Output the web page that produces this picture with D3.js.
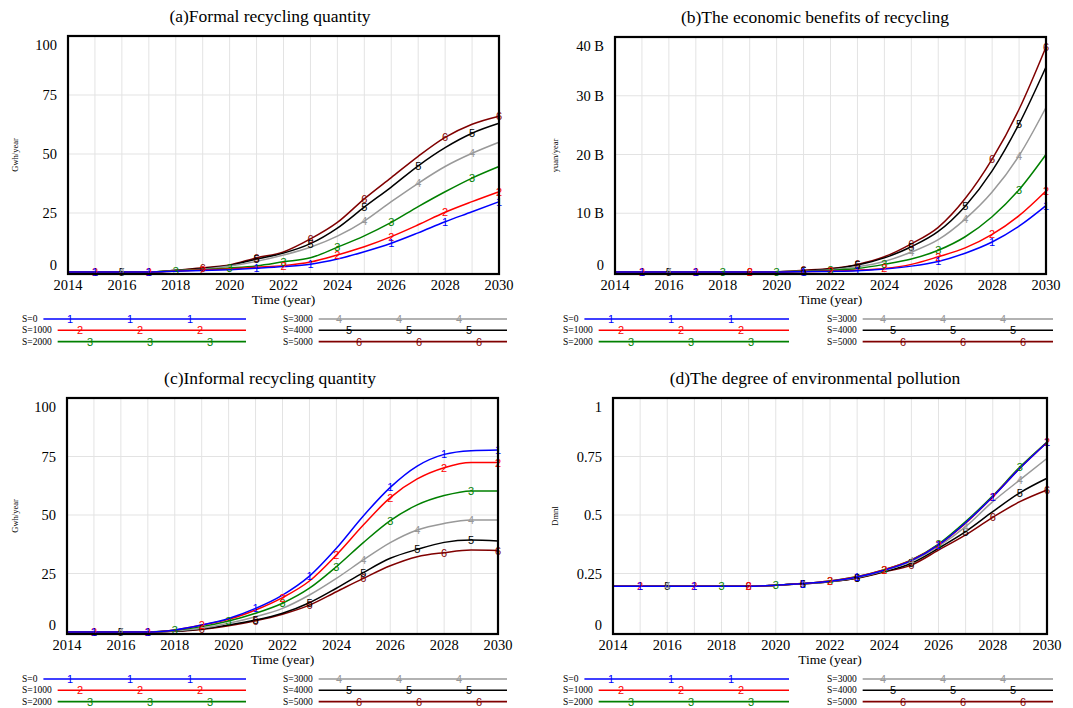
<!DOCTYPE html>
<html>
<head>
<meta charset="utf-8">
<script src="https://cdn.jsdelivr.net/npm/d3@7"></script>
<style>
  body { margin: 0; background: #fff; }
  svg { display: block; font-family: "Liberation Serif", "Times New Roman", serif; }
  .mark { font-family: "Liberation Sans", Arial, sans-serif; }
</style>
</head>
<body>
<svg id="chart" width="1073" height="708"></svg>
<script>
// --- data ---
const years = [2014, 2015, 2016, 2017, 2018, 2019, 2020, 2021, 2022, 2023, 2024, 2025, 2026, 2027, 2028, 2029, 2030];
const scenarios = ['S=0', 'S=1000', 'S=2000', 'S=3000', 'S=4000', 'S=5000'];
const colors = ['#0000ff', '#ff0000', '#008000', '#999999', '#000000', '#800000'];
const xTicks = [2014, 2016, 2018, 2020, 2022, 2024, 2026, 2028, 2030];

// (a) formal recycling quantity, Gwh/year
const formalS0    = [0, 0, 0, 0, 0.3, 0.6, 1.0, 1.6, 2.3, 3.3, 5.5, 8.6, 12.2, 16.6, 21.3, 25.5, 29.8];
const formalS1000 = [0, 0, 0, 0, 0.4, 0.8, 1.3, 2.0, 2.7, 4.2, 7.2, 10.7, 15.0, 20.0, 25.3, 29.8, 34.0];
const formalS2000 = [0, 0, 0, 0, 0.5, 1.0, 1.7, 2.6, 4.3, 6.0, 10.5, 15.3, 21.0, 27.7, 34.0, 39.8, 44.7];
const formalS3000 = [0, 0, 0, 0, 0.6, 1.2, 2.5, 4.5, 7.2, 10.5, 15.2, 21.6, 29.8, 37.6, 44.7, 50.3, 55.0];
const formalS4000 = [0, 0, 0, 0, 0.7, 1.5, 2.8, 5.5, 8.0, 12.0, 18.6, 27.5, 36.0, 45.0, 52.7, 58.8, 63.0];
const formalS5000 = [0, 0, 0, 0, 0.7, 1.8, 3.0, 6.0, 8.5, 14.0, 21.0, 31.0, 40.0, 49.0, 57.0, 62.6, 66.0];

// (b) economic benefits, billion yuan/year
const benefitS0    = [0, 0, 0, 0, 0, 0, 0, 0.05, 0.1, 0.2, 0.5, 1.0, 1.8, 3.2, 5.1, 7.8, 11.3];
const benefitS1000 = [0, 0, 0, 0, 0, 0, 0, 0.08, 0.15, 0.3, 0.6, 1.3, 2.6, 4.1, 6.4, 9.6, 13.8];
const benefitS2000 = [0, 0, 0, 0, 0, 0, 0.05, 0.1, 0.3, 0.6, 1.3, 2.2, 3.7, 6.0, 9.4, 14.0, 20.0];
const benefitS3000 = [0, 0, 0, 0, 0, 0, 0.05, 0.15, 0.4, 0.9, 1.8, 3.4, 5.5, 9.0, 13.6, 19.8, 28.0];
const benefitS4000 = [0, 0, 0, 0, 0, 0, 0.05, 0.2, 0.5, 1.2, 2.4, 4.3, 6.9, 11.2, 17.2, 25.2, 34.9];
const benefitS5000 = [0, 0, 0, 0, 0, 0, 0.05, 0.3, 0.6, 1.3, 2.6, 4.8, 7.6, 12.5, 19.2, 27.7, 38.3];

// (c) informal recycling quantity, Gwh/year
const informalS0    = [0, 0, 0, 0, 0.9, 3.0, 5.8, 10.1, 15.8, 23.9, 35.8, 49.6, 61.8, 70.9, 75.9, 77.5, 77.8];
const informalS1000 = [0, 0, 0, 0, 0.9, 3.0, 5.4, 9.4, 14.7, 21.8, 32.9, 45.7, 57.4, 65.4, 70.2, 72.4, 72.4];
const informalS2000 = [0, 0, 0, 0, 0.7, 2.3, 4.7, 8.0, 12.3, 18.7, 27.9, 38.2, 47.6, 54.3, 58.3, 60.3, 60.3];
const informalS3000 = [0, 0, 0, 0, 0.5, 1.6, 3.7, 6.5, 10.1, 15.8, 22.9, 30.8, 38.2, 43.6, 46.4, 47.9, 47.9];
const informalS4000 = [0, 0, 0, 0, 0.4, 1.3, 3.0, 5.1, 8.0, 12.5, 18.7, 25.4, 31.5, 35.3, 38.3, 39.3, 38.9];
const informalS5000 = [0, 0, 0, 0, 0.3, 1.1, 2.7, 4.8, 7.6, 11.5, 17.2, 22.9, 28.3, 32.2, 33.9, 35.0, 34.8];

// (d) degree of environmental pollution, Dmnl
const pollutionS0    = [0.195, 0.195, 0.195, 0.195, 0.195, 0.195, 0.2, 0.207, 0.217, 0.235, 0.264, 0.305, 0.372, 0.467, 0.578, 0.70, 0.81];
const pollutionS1000 = [0.195, 0.195, 0.195, 0.195, 0.195, 0.195, 0.2, 0.207, 0.218, 0.236, 0.266, 0.307, 0.372, 0.465, 0.578, 0.70, 0.81];
const pollutionS2000 = [0.195, 0.195, 0.195, 0.195, 0.195, 0.195, 0.2, 0.207, 0.218, 0.237, 0.266, 0.308, 0.376, 0.472, 0.582, 0.705, 0.812];
const pollutionS3000 = [0.195, 0.195, 0.195, 0.195, 0.195, 0.195, 0.2, 0.206, 0.216, 0.233, 0.262, 0.302, 0.366, 0.45, 0.557, 0.65, 0.742];
const pollutionS4000 = [0.195, 0.195, 0.195, 0.195, 0.195, 0.195, 0.2, 0.206, 0.215, 0.231, 0.258, 0.294, 0.358, 0.429, 0.514, 0.595, 0.657];
const pollutionS5000 = [0.195, 0.195, 0.195, 0.195, 0.195, 0.195, 0.2, 0.206, 0.215, 0.23, 0.257, 0.286, 0.35, 0.415, 0.49, 0.557, 0.607];

// years where each run carries its number label (Vensim-style)
const markerYears = [
  [2015, 2017, 2021, 2023, 2026, 2028, 2030],
  [2015, 2017, 2019, 2022, 2024, 2026, 2028, 2030],
  [2018, 2020, 2022, 2024, 2026, 2029],
  [2016, 2025, 2027, 2029],
  [2016, 2021, 2023, 2025, 2027, 2029],
  [2019, 2021, 2023, 2025, 2028, 2030],
];

const panels = [
  { title: '(a)Formal recycling quantity', unit: 'Gwh/year', yMax: 100, yTicks: [0, 25, 50, 75, 100], fmt: d => d,
    series: [formalS0, formalS1000, formalS2000, formalS3000, formalS4000, formalS5000],
    x0: 68, x1: 499, top: 36, bottom: 274, titleX: 270, unitX: 15, legendX: [22, 283], legendEnd: [246, 507] },
  { title: '(b)The economic benefits of recycling', unit: 'yuan/year', yMax: 40, yTicks: [0, 10, 20, 30, 40], fmt: d => d ? d + ' B' : '0',
    series: [benefitS0, benefitS1000, benefitS2000, benefitS3000, benefitS4000, benefitS5000],
    x0: 615, x1: 1046, top: 37, bottom: 274, titleX: 815, unitX: 555, legendX: [563, 827], legendEnd: [789, 1053] },
  { title: '(c)Informal recycling quantity', unit: 'Gwh/year', yMax: 100, yTicks: [0, 25, 50, 75, 100], fmt: d => d,
    series: [informalS0, informalS1000, informalS2000, informalS3000, informalS4000, informalS5000],
    x0: 67, x1: 498, top: 398, bottom: 634, titleX: 270, unitX: 15, legendX: [22, 283], legendEnd: [246, 507] },
  { title: '(d)The degree of environmental pollution', unit: 'Dmnl', yMax: 1, yTicks: [0, 0.25, 0.5, 0.75, 1], fmt: d => d,
    series: [pollutionS0, pollutionS1000, pollutionS2000, pollutionS3000, pollutionS4000, pollutionS5000],
    x0: 613, x1: 1047, top: 398, bottom: 634, titleX: 815, unitX: 555, legendX: [563, 827], legendEnd: [789, 1053] },
];

const svg = d3.select('#chart');

panels.forEach(p => {
  const g = svg.append('g');
  const x = d3.scaleLinear().domain([2014, 2030]).range([p.x0, p.x1]);
  const y = d3.scaleLinear().domain([0, p.yMax]).range([p.bottom - 2, p.top]);

  g.append('text').attr('x', p.titleX).attr('y', p.top - 14).attr('text-anchor', 'middle')
    .attr('font-size', 17.5).text(p.title);

  // grid
  g.append('g').selectAll('line').data(years.slice(1, -1)).join('line')
    .attr('x1', d => x(d)).attr('x2', d => x(d)).attr('y1', p.top).attr('y2', p.bottom)
    .attr('stroke', '#e3e3e3').attr('stroke-width', 1);
  g.append('g').selectAll('line').data(p.yTicks.slice(1, -1)).join('line')
    .attr('x1', p.x0).attr('x2', p.x1).attr('y1', d => y(d)).attr('y2', d => y(d))
    .attr('stroke', '#e3e3e3').attr('stroke-width', 1);

  // y tick labels, clamped inside the frame like Vensim does
  g.append('g').selectAll('text').data(p.yTicks).join('text')
    .attr('x', p.x0 - 11).attr('text-anchor', 'end').attr('font-size', 14.5)
    .attr('y', d => Math.max(p.top + 9, Math.min(p.bottom - 9, y(d))) + 5)
    .text(p.fmt);

  // x tick labels
  g.append('g').selectAll('text').data(xTicks).join('text')
    .attr('x', d => x(d)).attr('y', p.bottom + 16).attr('text-anchor', 'middle')
    .attr('font-size', 14.5).text(d => d);

  g.append('text').attr('x', (p.x0 + p.x1) / 2).attr('y', p.bottom + 30).attr('text-anchor', 'middle')
    .attr('font-size', 13.5).text('Time (year)');

  g.append('text').attr('transform', `translate(${p.unitX + 3},${(p.top + p.bottom) / 2}) rotate(-90)`)
    .attr('text-anchor', 'middle').attr('font-size', 8.5).text(p.unit);

  // lines, S=5000 first so S=0 ends up on top
  const line = d3.line().x((d, i) => x(years[i])).y(d => y(d)).curve(d3.curveMonotoneX);
  const order = [5, 4, 3, 2, 1, 0];
  order.forEach(k => {
    g.append('path').attr('d', line(p.series[k])).attr('fill', 'none')
      .attr('stroke', colors[k]).attr('stroke-width', 1.5);
  });
  order.forEach(k => {
    g.append('g').selectAll('text').data(markerYears[k]).join('text')
      .attr('class', 'mark')
      .attr('x', d => x(d)).attr('y', d => y(p.series[k][years.indexOf(d)]) + 4)
      .attr('text-anchor', 'middle').attr('font-size', 11).attr('fill', colors[k])
      .text(k + 1);
  });

  // frame
  g.append('rect').attr('x', p.x0).attr('y', p.top).attr('width', p.x1 - p.x0).attr('height', p.bottom - p.top)
    .attr('fill', 'none').attr('stroke', '#000').attr('stroke-width', 2.2);

  // legend: two columns of three rows
  const ly = p.bottom + 45;
  scenarios.forEach((s, k) => {
    const col = Math.floor(k / 3), row = k % 3;
    const rowY = ly + row * 11.3;
    const lx = p.legendX[col];
    const t = g.append('text').attr('x', lx).attr('y', rowY + 3).attr('font-size', 9.5).text(s);
    const w = t.node().getComputedTextLength();
    g.append('line').attr('x1', lx + w + 6).attr('x2', p.legendEnd[col]).attr('y1', rowY).attr('y2', rowY)
      .attr('stroke', colors[k]).attr('stroke-width', 1.6);
    const m0 = lx + (col ? 56 : 48) + row * 10;
    [0, 1, 2].forEach(j => {
      g.append('text').attr('class', 'mark').attr('x', m0 + j * 60).attr('y', rowY + 4)
        .attr('text-anchor', 'middle').attr('font-size', 11).attr('fill', colors[k]).text(k + 1);
    });
  });
});
</script>
</body>
</html>
